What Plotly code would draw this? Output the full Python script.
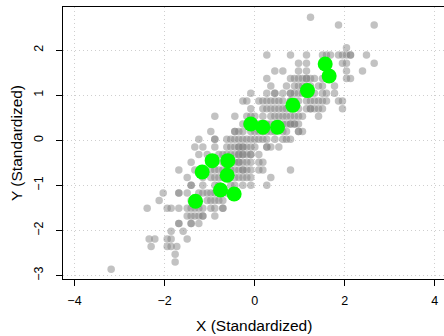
import plotly.graph_objects as go

# Gray background points, listed row by row (y value, x values)
row_y = [2.727, 2.557, 2.054, 1.891, 1.707, 1.537, 1.367, 1.204, 1.041, 0.871,
         0.701, 0.531, 0.361, 0.192, 0.022, -0.148, -0.318, -0.488, -0.658, -0.828,
         -0.998, -1.168, -1.338, -1.508, -1.678, -1.848, -2.018, -2.188, -2.358,
         -2.528, -2.698, -2.861]
row_x = [
    [1.240],
    [1.862, 2.654],
    [2.039],
    [0.270, 0.796, 1.151, 1.506, 1.595, 1.684, 1.862, 1.950, 2.039, 2.128, 2.483],
    [0.974, 1.151, 1.595, 1.950, 2.039, 2.654],
    [0.448, 0.626, 0.974, 1.151, 2.039, 2.395],
    [0.270, 0.796, 0.885, 0.974, 1.062, 1.151, 1.240, 1.329, 1.506, 1.595, 1.684, 2.039, 2.128],
    [0.359, 0.707, 0.885, 0.974, 1.062, 1.151, 1.240, 1.418, 1.506, 1.773],
    [-0.085, 0.270, 0.448, 0.626, 0.796, 0.885, 0.974, 1.062, 1.240, 1.329, 1.506, 1.595, 1.773],
    [-0.262, -0.174, 0.093, 0.182, 0.270, 0.359, 0.448, 0.537, 0.626, 0.796, 0.885, 0.974,
     1.151, 1.240, 1.329, 1.418, 1.506, 1.595, 1.862, 1.950],
    [-0.085, 0.182, 0.270, 0.359, 0.448, 0.537, 0.626, 0.707, 0.796, 0.974, 1.151, 1.240,
     1.329, 1.418, 1.506, 1.950],
    [-0.884, -0.440, -0.174, -0.085, 0.004, 0.182, 0.359, 0.448, 0.537, 0.626, 0.707, 0.796,
     0.885, 0.974, 1.062, 1.418],
    [-0.262, -0.174, 0.004, 0.093, 0.182, 0.270, 0.359, 0.448, 0.537, 0.626, 0.707, 0.796,
     0.885, 0.974],
    [-0.973, -0.440, -0.351, -0.262, -0.085, 0.004, 0.093, 0.182, 0.270, 0.359, 0.448, 0.626,
     0.707, 0.974, 1.062],
    [-1.239, -0.884, -0.618, -0.529, -0.440, -0.351, -0.262, -0.174, -0.085, 0.004, 0.093,
     0.182, 0.270, 0.448, 0.626, 0.707, 0.796],
    [-1.328, -1.150, -0.884, -0.618, -0.529, -0.440, -0.351, -0.262, -0.174, -0.085, 0.004,
     0.270, 0.359, 0.537],
    [-1.239, -1.054, -0.795, -0.706, -0.618, -0.529, -0.440, -0.351, -0.262, -0.174, -0.085, 0.093],
    [-1.410, -0.973, -0.884, -0.706, -0.618, -0.529, -0.440, -0.351, -0.262, -0.174, -0.085,
     0.093, 0.182],
    [-1.683, -1.328, -0.973, -0.884, -0.795, -0.706, -0.618, -0.529, -0.440, -0.351, -0.262,
     -0.174, -0.085, 0.093, 0.182, 0.796],
    [-1.498, -1.150, -0.973, -0.884, -0.795, -0.706, -0.440, -0.351, -0.262, -0.174, -0.085, 0.359],
    [-1.410, -1.150, -0.884, -0.795, -0.529, -0.440, -0.262, -0.085, 0.270],
    [-2.031, -1.683, -1.498, -1.239, -1.150, -1.054, -0.973, -0.884, -0.795, -0.618, -0.529],
    [-2.120, -1.410, -1.239, -1.054, -0.973, -0.884, -0.795, -0.706],
    [-2.386, -1.942, -1.854, -1.683, -1.498, -1.410, -1.328, -1.239, -1.150, -0.973, -0.884, -0.706],
    [-1.498, -1.410, -1.328, -1.239, -1.150, -0.884],
    [-1.683, -1.410, -1.239],
    [-1.854, -1.587],
    [-2.342, -2.216, -1.942, -1.854, -1.498],
    [-2.298, -1.942, -1.854, -1.728],
    [-1.765],
    [-1.765],
    [-3.186],
]

# Repeated observations (appear darker)
dup_x = [2.128, 0.796, 0.796, 1.240, 0.796, 0.885, 0.974, -0.440, -0.884, -0.351, -0.262,
         0.270, -0.351, -0.262, -0.085, -0.351, -0.262, -1.410, -1.683, -1.683, -1.410,
         -0.706, -1.150, 1.151, 0.448]
dup_y = [1.891, 1.041, 0.871, 0.701, 0.361, 0.361, 0.192, 0.192, 0.022, -0.148, -0.148,
         -0.148, -0.318, -0.318, -0.318, -0.488, -0.658, -0.998, -1.168, -1.848, -1.848,
         -1.508, -1.678, 1.367, 1.041]

# Highlighted (green) points
green_x = [1.566, 1.654, 1.173, 0.848, -0.085, 0.182, 0.507, -0.943, -0.595, -1.165,
           -0.610, -0.758, -0.455, -1.313]
green_y = [1.692, 1.426, 1.101, 0.775, 0.361, 0.288, 0.288, -0.452, -0.452, -0.703,
           -0.777, -1.102, -1.191, -1.353]

x_ticks = [-4, -2, 0, 2, 4]
y_ticks = [-3, -2, -1, 0, 1, 2]

gray_x, gray_y = [], []
for yv, xs in zip(row_y, row_x):
    for xv in xs:
        gray_x.append(xv)
        gray_y.append(yv)
gray_x += dup_x
gray_y += dup_y

fig = go.Figure()
fig.add_trace(go.Scatter(x=gray_x, y=gray_y, mode="markers",
                         marker=dict(size=7.5, color="rgba(128,128,128,0.48)", line=dict(width=0)),
                         showlegend=False, hoverinfo="skip"))
fig.add_trace(go.Scatter(x=green_x, y=green_y, mode="markers",
                         marker=dict(size=15, color="#00ff00", line=dict(width=0)),
                         showlegend=False))

font = "Liberation Sans, Arial, Helvetica, sans-serif"
grid_dash = "1px,3px"
fig.update_layout(
    width=444, height=336,
    margin=dict(l=63, r=0, t=7, b=57, autoexpand=False),
    paper_bgcolor="white", plot_bgcolor="white",
    font=dict(family=font, color="black"),
    xaxis=dict(range=[-4.255, 4.204], tickvals=x_ticks, ticks="outside", ticklen=6,
               tickcolor="black", showline=True, linecolor="black", linewidth=1, mirror=True,
               showgrid=True, gridcolor="#cfcfcf", griddash=grid_dash, gridwidth=1,
               zeroline=False, tickfont=dict(size=12.5, family=font, color="black"),
               ticklabelstandoff=4, layer="below traces"),
    yaxis=dict(range=[-3.076, 2.955], tickvals=y_ticks, ticks="outside", ticklen=6,
               tickcolor="black", showline=True, linecolor="black", linewidth=1,
               showgrid=True, gridcolor="#cfcfcf", griddash=grid_dash, gridwidth=1,
               zeroline=False, tickangle=-90,
               tickfont=dict(size=12.5, family=font, color="black"),
               ticklabelstandoff=8),
    annotations=[
        dict(text="X (Standardized)", xref="paper", yref="paper", x=0.5, y=0,
             xanchor="center", yanchor="middle", yshift=-46, showarrow=False,
             font=dict(size=15.5, family=font, color="black")),
        dict(text="Y (Standardized)", xref="paper", yref="paper", x=0, y=0.5,
             xanchor="center", yanchor="middle", xshift=-47, textangle=-90, showarrow=False,
             font=dict(size=15.5, family=font, color="black")),
    ],
)

fig.write_html("out.html")
